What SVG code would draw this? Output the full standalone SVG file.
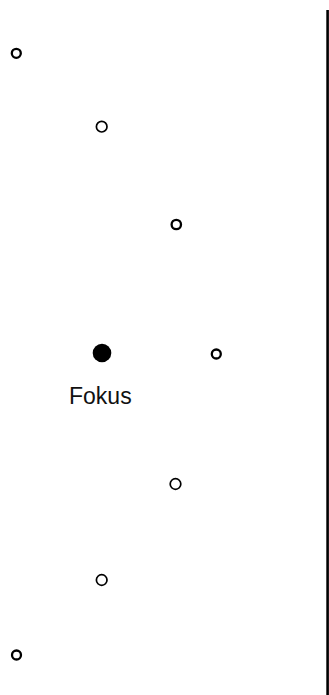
<svg xmlns="http://www.w3.org/2000/svg" width="329" height="695" viewBox="0 0 329 695">
<style>
.pt{fill:#fff;stroke:#000;stroke-width:2.3}
.pt2{fill:#fff;stroke:#000;stroke-width:1.7}
.lbl{font-family:"Liberation Sans",Arial,sans-serif;font-size:23px;fill:#111}
</style>
<rect width="329" height="695" fill="#fff"/>
<g id="connectors">
<line x1="327.6" y1="10" x2="327.6" y2="695" stroke="#000" stroke-width="2.6"/>
</g>
<g id="p1"><circle class="pt" cx="16.3" cy="53.3" r="4.5"/></g>
<g id="p2"><circle class="pt2" cx="101.7" cy="126.7" r="5.3"/></g>
<g id="p3"><circle class="pt" cx="176.3" cy="224.5" r="4.7"/></g>
<g id="focus"><circle cx="102" cy="353" r="9.3" fill="#000"/><text class="lbl" x="69" y="404">Fokus</text></g>
<g id="p4"><circle class="pt" cx="216.3" cy="354" r="4.5"/></g>
<g id="p5"><circle class="pt2" cx="175.5" cy="484" r="5.3"/></g>
<g id="p6"><circle class="pt2" cx="101.7" cy="580" r="5.3"/></g>
<g id="p7"><circle class="pt" cx="16.5" cy="655" r="4.5"/></g>
</svg>
